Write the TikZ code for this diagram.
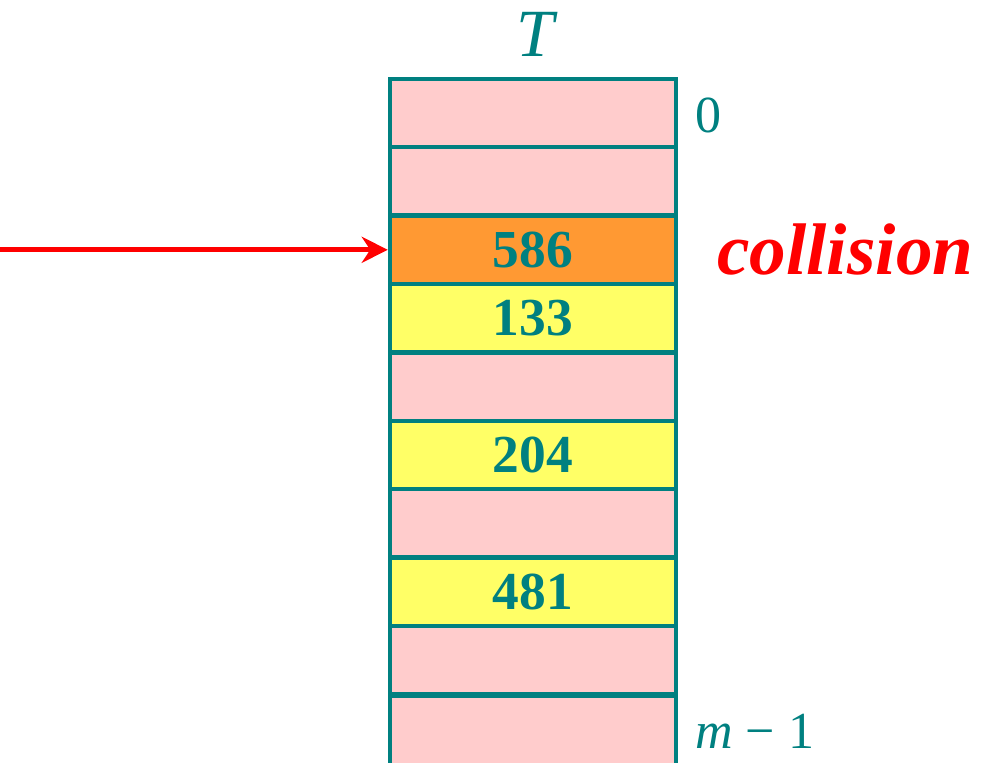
\documentclass[tikz,border=0pt]{standalone}
\usepackage{fontspec}
\setmainfont{Liberation Serif}
\usepackage{xcolor}
\usepackage{tikz}
\usetikzlibrary{positioning, arrows.meta}
\definecolor{tealline}{HTML}{008080}
\definecolor{slotpink}{HTML}{FFCCCC}
\definecolor{slotorange}{HTML}{FF9933}
\definecolor{slotyellow}{HTML}{FFFF66}

\begin{document}
\begin{tikzpicture}[x=0.025cm, y=-0.025cm,
    slot/.style={rectangle, draw=tealline, line width=0.11cm, minimum width=7.15cm,
      minimum height=1.71cm, inner sep=0pt, text=tealline,
      font=\fontsize{38}{40}\selectfont\bfseries},
    idx/.style={text=tealline, font=\fontsize{37}{40}\selectfont, inner sep=0pt}]
  \useasboundingbox (0,0) rectangle (981,763);
  % hash table slots
  \foreach \k/\c/\v in {0/slotpink/, 1/slotpink/, 2/slotorange/586, 3/slotyellow/133,
      4/slotpink/, 5/slotyellow/204, 6/slotpink/, 7/slotyellow/481, 8/slotpink/}
    \node[slot, fill=\c] (r\k) at (533,{113+68.4*\k}) {\v};
  \node[slot, fill=slotpink, minimum height=1.85cm] (r9) at (533,732.5) {};
  \node[text=tealline, font=\fontsize{48}{50}\selectfont\itshape, inner sep=0pt] (tname) at (535,34) {T};
  \node[idx, anchor=west] (i0) at (695,115) {0};
  \node[idx, anchor=base west] (im) at (695,748) {\textit{m} − 1};
  \node[text=red, font=\fontsize{52}{54}\selectfont\bfseries\itshape, anchor=base west, inner sep=0pt] (coll) at (717,274) {collision};
  \coordinate (src) at (r2.west -| 0,0);
  \draw[-{Stealth[length=0.65cm, width=0.65cm]}, red, line width=0.12cm] (src) -- (r2.west);
\end{tikzpicture}
\end{document}
